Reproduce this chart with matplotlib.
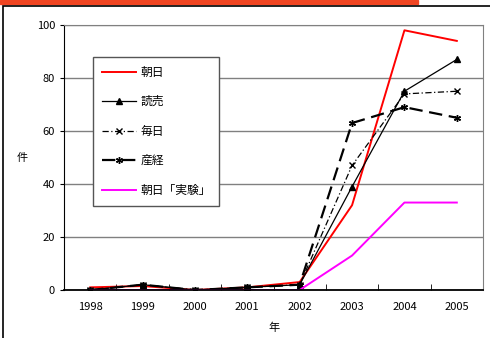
import matplotlib
matplotlib.use("Agg")
import matplotlib.pyplot as plt
from matplotlib.patches import Rectangle

plt.rcParams['font.family'] = ['Noto Sans CJK JP', 'DejaVu Sans']

# data
years = ['1998', '1999', '2000', '2001', '2002', '2003', '2004', '2005']
asahi = [1, 1.5, 0, 1, 3, 32, 98, 94]
yomiuri = [0, 2, 0, 1, 2, 39, 75, 87]
mainichi = [0, 2, 0, 1, 2, 47, 74, 75]
sankei = [0, 2, 0, 1, 2, 63, 69, 65]
asahi_exp = [0, 0, 0, 0, 0, 13, 33, 33]

fig = plt.figure(figsize=(4.9, 3.38), dpi=100)
W, H = 490, 338

# orange bar on top and the outer frame
fig.patches.append(Rectangle((0, 1 - 4 / H), 418 / W, 4 / H, transform=fig.transFigure,
                             color='#f04522', zorder=0))
fig.patches.append(Rectangle((3 / W, -0.1), 1.2, 1 - 6 / H + 0.1, transform=fig.transFigure,
                             fill=False, edgecolor='black', lw=1.2, zorder=0))

ax = fig.add_axes([64 / W, 1 - 290 / H, (483 - 64) / W, (290 - 25) / H])
x = list(range(len(years)))

ax.plot(x, asahi, color='red', lw=1.4, label='朝日')
ax.plot(x, yomiuri, color='black', lw=0.9, marker='^', ms=4, label='読売')
ax.plot(x, mainichi, color='black', lw=0.9, ls=(0, (5, 2, 1, 2)), marker='x', ms=4, label='毎日')
ax.plot(x, sankei, color='black', lw=1.6, ls=(0, (6, 3)), marker=(6, 2, 0), ms=5, label='産経')
ax.plot(x, asahi_exp, color='magenta', lw=1.4, label='朝日「実験」')

ax.set_xlim(-0.5, len(years) - 0.5)
ax.set_ylim(0, 100)
ax.set_yticks([0, 20, 40, 60, 80, 100])
ax.set_xticks(x)
ax.set_xticklabels(years, fontsize=8)
ax.tick_params(axis='x', length=0, pad=9)
ax.set_xticks([i + 0.5 for i in x[:-1]], minor=True)
ax.tick_params(axis='x', which='minor', direction='in', length=4)
ax.tick_params(axis='y', labelsize=8, direction='out', length=3)
ax.yaxis.grid(True, color='#808080', lw=1)
ax.set_axisbelow(True)
for s in ['top', 'right']:
    ax.spines[s].set_color('#808080')
ax.spines['left'].set_color('black')
ax.spines['bottom'].set_color('black')
ax.spines['bottom'].set_linewidth(1.3)

ax.set_xlabel('年', fontsize=8)
ax.xaxis.set_label_coords(0.5, -0.125)
ax.set_ylabel('件', fontsize=8, rotation=0, va='center', ha='center')
ax.yaxis.set_label_coords(-0.1, 0.5)

leg = ax.legend(loc='upper left', bbox_to_anchor=(0.069, 0.88), fontsize=8.5, fancybox=False,
                framealpha=1, edgecolor='#555555', handlelength=2.9, labelspacing=1.4,
                borderpad=0.75, handletextpad=0.35, borderaxespad=0)
leg.get_frame().set_linewidth(1)

fig.savefig('out.png', dpi=100)
